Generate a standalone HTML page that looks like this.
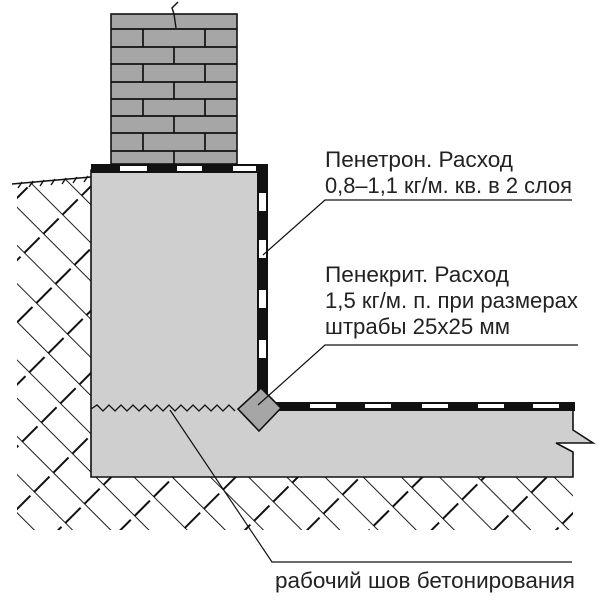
<!DOCTYPE html>
<html><head><meta charset="utf-8"><style>
html,body{margin:0;padding:0;background:#fff;}
svg{display:block}
text{font-family:"Liberation Sans",sans-serif;font-size:22px;fill:#222}
</style></head><body>
<svg width="609" height="600" viewBox="0 0 609 600">
<defs>
<pattern id="h" width="27" height="44" patternUnits="userSpaceOnUse" patternTransform="rotate(-45)">
<line x1="0" y1="0" x2="0" y2="44" stroke="#111" stroke-width="1.9"/>
<line x1="-2" y1="20" x2="22" y2="20" stroke="#111" stroke-width="1.9"/>
</pattern>
<clipPath id="e"><path d="M17,184 L91,176 L91,477 L573,477 L573,530 L17,530 Z"/></clipPath>
</defs>
<rect x="0" y="170" width="600" height="370" fill="url(#h)" clip-path="url(#e)"/>
<line x1="12" y1="184" x2="91" y2="177" stroke="#111" stroke-width="1.6"/>
<g stroke="#111" stroke-width="1.4">
<line x1="18" y1="188" x2="22" y2="182"/><line x1="29" y1="187" x2="33" y2="181"/><line x1="40" y1="186" x2="44" y2="180"/><line x1="51" y1="185" x2="55" y2="179"/><line x1="62" y1="184" x2="66" y2="178"/><line x1="73" y1="183" x2="77" y2="177"/><line x1="84" y1="182" x2="88" y2="176"/>
</g>
<path d="M91,170 L262,170 L262,408 L573,408 L573,430 L593,443 L556,443 L573,452 L573,477 L91,477 Z" fill="#cfcfcf" stroke="#111" stroke-width="1.6"/>
<rect x="111" y="14" width="126" height="150" fill="#a6a6a6" stroke="#111" stroke-width="1.6"/>
<g stroke="#111" stroke-width="1.7">
<line x1="111" y1="29" x2="237" y2="29"/><line x1="111" y1="47" x2="237" y2="47"/><line x1="111" y1="64" x2="237" y2="64"/><line x1="111" y1="82" x2="237" y2="82"/><line x1="111" y1="99" x2="237" y2="99"/><line x1="111" y1="116" x2="237" y2="116"/><line x1="111" y1="133" x2="237" y2="133"/><line x1="111" y1="151" x2="237" y2="151"/>
<line x1="143" y1="29" x2="143" y2="47"/><line x1="205" y1="29" x2="205" y2="47"/>
<line x1="174" y1="47" x2="174" y2="64"/>
<line x1="143" y1="64" x2="143" y2="82"/><line x1="205" y1="64" x2="205" y2="82"/>
<line x1="174" y1="82" x2="174" y2="99"/>
<line x1="143" y1="99" x2="143" y2="116"/><line x1="205" y1="99" x2="205" y2="116"/>
<line x1="174" y1="116" x2="174" y2="133"/>
<line x1="143" y1="133" x2="143" y2="151"/><line x1="205" y1="133" x2="205" y2="151"/>
<line x1="174" y1="151" x2="174" y2="164"/>
</g>
<path d="M174,14 L172,8 L178,2 M174,14 L176,28" fill="none" stroke="#111" stroke-width="1.4"/>
<rect x="91" y="164" width="177" height="9" fill="#111"/>
<g fill="#fff"><rect x="120" y="166" width="27" height="5"/><rect x="177" y="166" width="25" height="5"/><rect x="233" y="166" width="23" height="5"/></g>
<rect x="257" y="164" width="11" height="240" fill="#111"/>
<g fill="#fff"><rect x="259" y="193" width="7" height="18"/><rect x="259" y="240" width="7" height="18"/><rect x="259" y="290" width="7" height="18"/><rect x="259" y="340" width="7" height="18"/></g>
<rect x="275" y="402" width="300" height="9" fill="#111"/>
<g fill="#fff"><rect x="310" y="404" width="26" height="4"/><rect x="365" y="404" width="26" height="4"/><rect x="422" y="404" width="26" height="4"/><rect x="478" y="404" width="26" height="4"/><rect x="533" y="404" width="26" height="4"/></g>
<path d="M261,388 L281,408 L259,431 L238,409 Z" fill="#a6a6a6" stroke="#111" stroke-width="1.6"/>
<path d="M91,409 l6,-4 l6,6 l6,-6 l6,6 l6,-6 l6,6 l6,-6 l6,6 l6,-6 l6,6 l6,-6 l6,6 l6,-6 l6,6 l6,-6 l6,6 l6,-6 l6,6 l6,-6 l6,6 l6,-6 l6,6 l6,-6 l6,6" fill="none" stroke="#111" stroke-width="1.3"/>
<g stroke="#111" stroke-width="1.2" fill="none">
<polyline points="572,200 325,200 263,255"/>
<polyline points="578,345 325,345 258,405"/>
<polyline points="170,410 272,562 572,562"/>
</g>
<text x="325" y="167" textLength="188" lengthAdjust="spacingAndGlyphs">Пенетрон. Расход</text>
<text x="325" y="193" textLength="247" lengthAdjust="spacingAndGlyphs">0,8–1,1 кг/м. кв. в 2 слоя</text>
<text x="325" y="282" textLength="184" lengthAdjust="spacingAndGlyphs">Пенекрит. Расход</text>
<text x="325" y="308" textLength="253" lengthAdjust="spacingAndGlyphs">1,5 кг/м. п. при размерах</text>
<text x="325" y="334" textLength="185" lengthAdjust="spacingAndGlyphs">штрабы 25х25 мм</text>
<text x="275" y="588" textLength="300" lengthAdjust="spacingAndGlyphs">рабочий шов бетонирования</text>
</svg>
</body></html>
